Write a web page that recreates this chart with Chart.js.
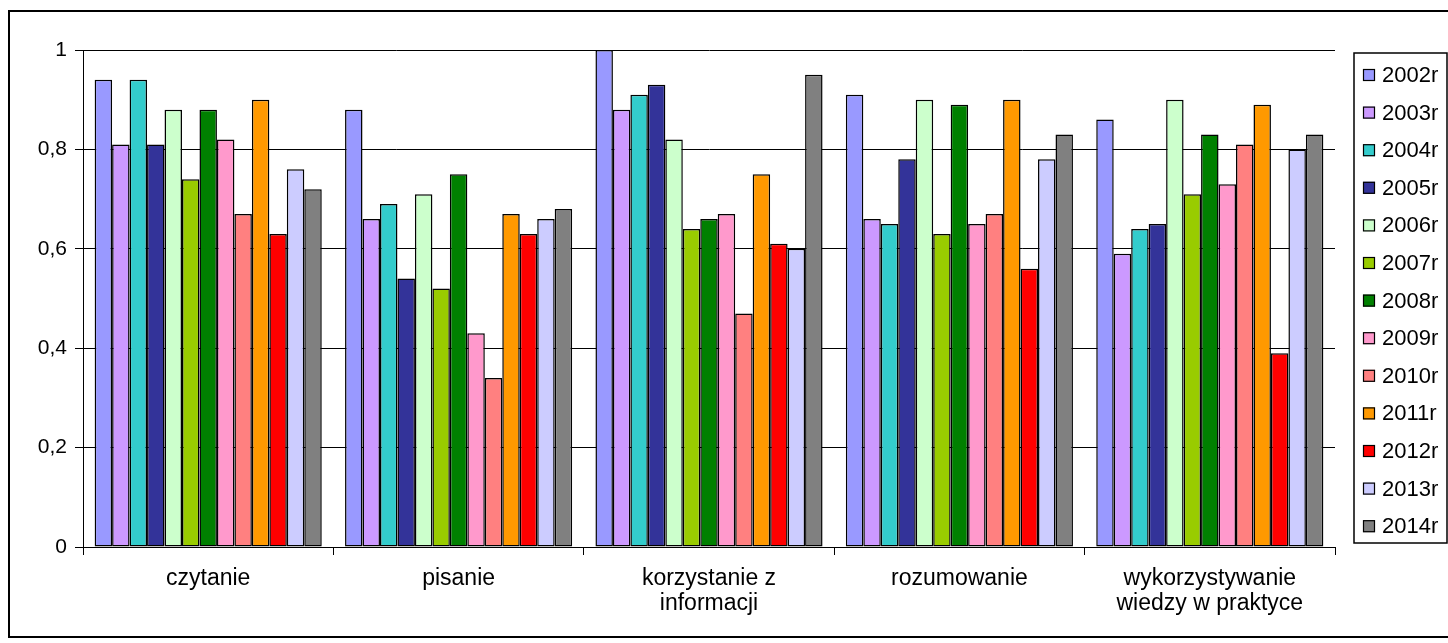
<!DOCTYPE html>
<html>
<head>
<meta charset="utf-8">
<script src="https://cdn.jsdelivr.net/npm/chart.js@4"></script>
<style>
  html, body { margin: 0; padding: 0; background: #fff; }
  #wrap { width: 1448px; height: 643px; position: relative; }
</style>
</head>
<body>
<div id="wrap"><canvas id="chart"></canvas></div>
<script>
// categories (x axis)
const categories = [
  "czytanie",
  "pisanie",
  ["korzystanie z", "informacji"],
  "rozumowanie",
  ["wykorzystywanie", "wiedzy w praktyce"],
];

// one series per year, values per category
const years = ["2002r", "2003r", "2004r", "2005r", "2006r", "2007r", "2008r",
  "2009r", "2010r", "2011r", "2012r", "2013r", "2014r"];
const v2002 = [0.94, 0.88, 1.0, 0.91, 0.86];
const v2003 = [0.81, 0.66, 0.88, 0.66, 0.59];
const v2004 = [0.94, 0.69, 0.91, 0.65, 0.64];
const v2005 = [0.81, 0.54, 0.93, 0.78, 0.65];
const v2006 = [0.88, 0.71, 0.82, 0.9, 0.9];
const v2007 = [0.74, 0.52, 0.64, 0.63, 0.71];
const v2008 = [0.88, 0.75, 0.66, 0.89, 0.83];
const v2009 = [0.82, 0.43, 0.67, 0.65, 0.73];
const v2010 = [0.67, 0.34, 0.47, 0.67, 0.81];
const v2011 = [0.9, 0.67, 0.75, 0.9, 0.89];
const v2012 = [0.63, 0.63, 0.61, 0.56, 0.39];
const v2013 = [0.76, 0.66, 0.6, 0.78, 0.8];
const v2014 = [0.72, 0.68, 0.95, 0.83, 0.83];
const seriesValues = [v2002, v2003, v2004, v2005, v2006, v2007, v2008,
  v2009, v2010, v2011, v2012, v2013, v2014];

// y axis ticks
const yTicks = [0, 0.2, 0.4, 0.6, 0.8, 1];

const colors = ["#9999FF", "#CC99FF", "#33CCCC", "#333399", "#CCFFCC", "#99CC00",
  "#008000", "#FF99CC", "#FF8080", "#FF9900", "#FF0000", "#CCCCFF", "#808080"];

const FONT = "'Liberation Sans', Arial, sans-serif";

// outer frame of the whole chart
const framePlugin = {
  id: "frame",
  beforeDraw(chart) {
    const ctx = chart.ctx;
    ctx.save();
    ctx.fillStyle = "#fff";
    ctx.fillRect(0, 0, chart.width, chart.height);
    ctx.strokeStyle = "#000";
    ctx.lineWidth = 2;
    ctx.strokeRect(9, 11, chart.width, chart.height - 17);
    ctx.restore();
  },
};

// boxed legend on the right, Excel style
const legendBoxPlugin = {
  id: "legendBox",
  afterDraw(chart) {
    const ctx = chart.ctx;
    const left = 1354, top = 53, right = 1447, bottom = 543;
    ctx.save();
    ctx.strokeStyle = "#000";
    ctx.lineWidth = 1.5;
    ctx.strokeRect(left, top, right - left, bottom - top);
    ctx.font = "22px " + FONT;
    ctx.textBaseline = "middle";
    chart.data.datasets.forEach((ds, i) => {
      const y = 75 + i * 37.6;
      ctx.fillStyle = ds.backgroundColor;
      ctx.fillRect(1363, y - 6, 12, 12);
      ctx.lineWidth = 1.2;
      ctx.strokeStyle = "#000";
      ctx.strokeRect(1363.5, y - 5.5, 11, 11);
      ctx.fillStyle = "#000";
      ctx.fillText(ds.label, 1382, y + 1);
    });
    ctx.restore();
  },
};

new Chart(document.getElementById("chart"), {
  type: "bar",
  data: {
    labels: categories,
    datasets: years.map((y, i) => ({
      label: y,
      data: seriesValues[i],
      backgroundColor: colors[i],
      borderColor: "#000",
      borderWidth: 1.5,
      borderSkipped: false,
      categoryPercentage: 0.907,
      barPercentage: 1,
    })),
  },
  options: {
    responsive: true,
    maintainAspectRatio: false,
    animation: false,
    layout: { padding: { left: 0, top: 50, right: 113, bottom: 0 } },
    plugins: {
      legend: { display: false },
      tooltip: { enabled: false },
    },
    scales: {
      x: {
        grid: {
          display: true,
          offset: true,
          drawOnChartArea: false,
          tickLength: 8,
          color: "#000",
        },
        border: { display: true, color: "#000", width: 1 },
        ticks: {
          color: "#000",
          font: { family: FONT, size: 23, lineHeight: 1.05 },
          padding: 12,
          maxRotation: 0,
          autoSkip: false,
        },
        afterFit(scale) { scale.height = 96; },
      },
      y: {
        min: 0,
        max: 1,
        afterBuildTicks(scale) { scale.ticks = yTicks.map((v) => ({ value: v })); },
        grid: { color: "#000", lineWidth: 1, tickLength: 8 },
        border: { display: true, color: "#000", width: 1 },
        ticks: {
          color: "#000",
          font: { family: FONT, size: 21 },
          padding: 8,
          callback: (v) => String(Math.round(v * 10) / 10).replace(".", ","),
        },
        afterFit(scale) { scale.width = 83; },
      },
    },
  },
  plugins: [framePlugin, legendBoxPlugin],
});
</script>
</body>
</html>
